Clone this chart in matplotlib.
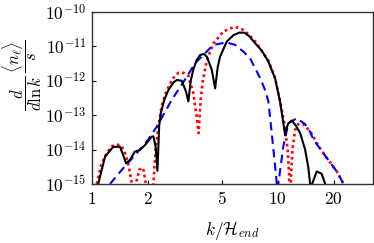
import matplotlib
matplotlib.use("Agg")
import matplotlib.pyplot as plt

plt.rcParams['mathtext.fontset'] = 'cm'
plt.rcParams['font.family'] = ['DejaVu Serif']

# black solid
k_black = [1.00, 1.08, 1.175, 1.30, 1.415, 1.47, 1.524, 1.60, 1.70, 1.81, 1.93, 2.10, 2.14, 2.20,
           2.25, 2.30, 2.35, 2.45, 2.58, 2.75, 2.86, 3.04, 3.20, 3.30, 3.40, 3.51, 3.66, 3.82,
           4.00, 4.15, 4.41, 4.60, 4.75, 4.89, 5.31, 5.77, 6.20, 6.60, 7.00, 7.55, 8.20, 8.90,
           9.67, 10.28, 10.72, 10.95, 11.20, 11.40, 11.90, 12.50, 13.20, 14.03, 14.60, 14.93,
           15.10, 15.30, 16.20, 17.20, 18.00, 18.40]
y_black = [1e-16, 1e-15, 6.2e-15, 1.2e-14, 1.2e-14, 7e-15, 4e-15, 5e-15, 8.7e-15, 9.7e-15,
           1.35e-14, 2.4e-14, 2.4e-14, 1.2e-14, 2.4e-15, 5e-14, 1.2e-13, 2.8e-13, 5.4e-13,
           9e-13, 1.05e-12, 1e-12, 5e-13, 2.5e-13, 1e-12, 2.1e-12, 4e-12, 5.6e-12, 6e-12,
           5e-12, 2.1e-12, 6e-13, 2.5e-12, 5e-12, 1.37e-11, 2.1e-11, 2.5e-11, 2.5e-11, 2e-11,
           1.23e-11, 7.5e-12, 3.6e-12, 1.18e-12, 2.5e-13, 5.8e-14, 2.6e-14, 4.5e-14, 5.8e-14,
           7e-14, 5e-14, 3e-14, 1e-14, 3e-15, 1e-15, 1e-16, 1e-15, 2.3e-15, 2e-15, 1e-15, 1e-16]

# red dotted
k_red = [1.00, 1.06, 1.12, 1.20, 1.28, 1.36, 1.44, 1.52, 1.58, 1.64, 1.67, 1.72, 1.80, 1.86,
         1.90, 1.95, 2.00, 2.05, 2.10, 2.14, 2.20, 2.28, 2.37, 2.50, 2.70, 2.92, 3.10, 3.30,
         3.51, 3.65, 3.75, 3.85, 3.95, 4.15, 4.50, 5.09, 5.77, 6.10, 6.53, 7.10, 7.55, 8.90,
         9.67, 10.30, 10.90, 11.30, 11.50, 11.65, 11.80, 12.00, 12.40, 12.90, 13.70, 15.00,
         16.50, 18.40, 20.80, 22.60]
y_red = [1e-16, 1e-15, 3.5e-15, 8e-15, 1.25e-14, 1.4e-14, 1.3e-14, 7e-15, 3e-15, 1e-15, 1e-16,
         1e-15, 2.6e-15, 3e-15, 2.4e-15, 1e-15, 1e-16, 1e-15, 1e-16, 1e-15, 1e-14, 5e-14,
         1.8e-13, 4.5e-13, 1.1e-12, 1.7e-12, 1.7e-12, 1.4e-12, 4.3e-13, 1e-13, 3e-14, 3e-13,
         1e-12, 4e-12, 1.2e-11, 2.7e-11, 3.6e-11, 3.5e-11, 3e-11, 2e-11, 1.4e-11, 3.8e-12,
         1.2e-12, 2.5e-13, 5e-14, 1e-14, 2e-15, 1e-16, 2e-15, 1e-14, 3.7e-14, 5.5e-14, 5.5e-14,
         3.3e-14, 1.3e-14, 5.6e-15, 2.3e-15, 1e-15]

# blue dashed
k_blue = [1.25, 1.475, 1.74, 2.00, 2.23, 2.69, 3.24, 3.58, 4.06, 4.50, 5.30, 5.90, 6.53, 7.09,
          8.03, 8.54, 8.90, 9.28, 9.60, 9.88, 9.97, 10.07, 10.70, 11.40, 12.65, 14.00, 14.90,
          15.60, 18.40, 20.80, 22.60]
y_blue = [1e-15, 2.9e-15, 7.8e-15, 1.9e-14, 4.6e-14, 2.8e-13, 1.3e-12, 3.2e-12, 6.3e-12,
          1.1e-11, 1.3e-11, 1.1e-11, 7e-12, 4.5e-12, 1.2e-12, 5.4e-13, 2.5e-13, 3e-14, 5e-15,
          1e-15, 1e-17, 1e-15, 1.2e-14, 5.8e-14, 8.1e-14, 5.5e-14, 3.3e-14, 1.9e-14, 5.6e-15,
          2.3e-15, 1e-15]

x_ticks = [1, 2, 5, 10, 20]
x_tick_labels = ['$1$', '$2$', '$5$', '$10$', '$20$']
y_ticks = [1e-15, 1e-14, 1e-13, 1e-12, 1e-11, 1e-10]
y_tick_labels = ['$10^{-15}$', '$10^{-14}$', '$10^{-13}$', '$10^{-12}$', '$10^{-11}$', '$10^{-10}$']

fig = plt.figure(figsize=(3.74, 2.43), dpi=100)
ax = fig.add_axes([0.246, 0.243, 0.751, 0.708])

ax.plot(k_black, y_black, color='black', lw=1.5, ls='-', zorder=3)
ax.plot(k_red, y_red, color='#ff0000', lw=1.9, ls=(0, (1, 1.2)), zorder=2)
ax.plot(k_blue, y_blue, color='#0000ff', lw=1.5, ls=(0, (4, 2.5)), zorder=2)

ax.set_xscale('log')
ax.set_yscale('log')
ax.set_xlim(1, 32.5)
ax.set_ylim(1e-15, 1e-10)
ax.minorticks_off()
ax.set_xticks(x_ticks)
ax.set_xticklabels(x_tick_labels)
ax.set_yticks(y_ticks)
ax.set_yticklabels(y_tick_labels)
ax.tick_params(direction='in', length=3, width=0.8, labelsize=12.5, top=False, right=False)
ax.tick_params(axis='x', pad=5)
ax.tick_params(axis='y', pad=4)
for s in ax.spines.values():
    s.set_color('#333333')
    s.set_linewidth(1.0)

ax.set_xlabel(r'$k/\mathcal{H}_{end}$', fontsize=12.5, labelpad=8)
ax.set_ylabel(r'$\dfrac{d}{d\ln k}\,\dfrac{\langle n_\ell\rangle}{s}$', fontsize=12)
ax.yaxis.set_label_coords(-0.17, 0.635)

fig.savefig('out.png', dpi=100)
